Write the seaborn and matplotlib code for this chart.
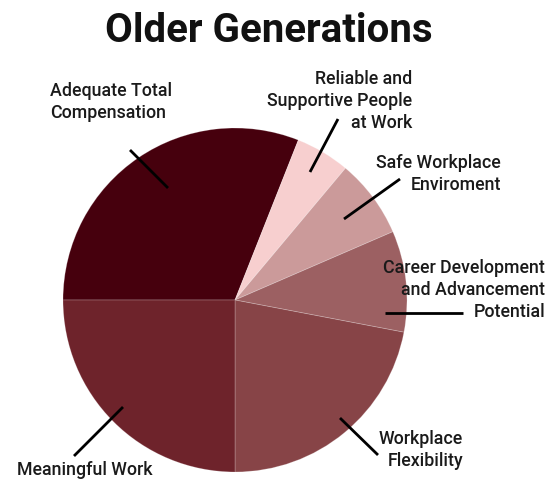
import matplotlib
matplotlib.use("Agg")
import matplotlib.pyplot as plt
import seaborn as sns

# Share of older-generation respondents by top workplace priority
categories = [
    "Adequate Total\nCompensation",
    "Reliable and\nSupportive People\nat Work",
    "Safe Workplace\nEnviroment",
    "Career Development\nand Advancement\nPotential",
    "Workplace\nFlexibility",
    "Meaningful Work",
]
shares = [31.0, 5.1, 7.4, 9.5, 22.0, 25.0]
colors = ["#46000d", "#f7cfcf", "#cb9a9a", "#9c6062", "#874447", "#6e232b"]

sns.set_theme(style="white")
plt.rcParams["font.family"] = ["Roboto", "DejaVu Sans"]

W, H = 548, 480
CX, CY, R = 235, 300, 172

fig = plt.figure(figsize=(W / 100, H / 100), dpi=100)
ax = fig.add_axes([0, 0, 1, 1])
ax.pie(shares, colors=colors, startangle=180, counterclock=False,
       radius=1, center=(0, 0),
       wedgeprops=dict(linewidth=0.6, edgecolor="#ffffff40"))
ax.set_xlim(-CX / R, (W - CX) / R)
ax.set_ylim(-(H - CY) / R, CY / R)
ax.set_aspect("equal")
ax.axis("off")


def px(x, y):
    """Convert figure pixel position to pie data coordinates."""
    return (x - CX) / R, (CY - y) / R


# leader lines: (start inside wedge, end near label)
leaders = [
    ((168, 188), (130, 150)),
    ((310, 172), (338, 119)),
    ((344, 219), (400, 179)),
    ((385, 313), (463, 313)),
    ((340, 418), (378, 455)),
    ((123, 407), (74, 456)),
]
for (a, b) in leaders:
    p0, p1 = px(*a), px(*b)
    ax.plot([p0[0], p1[0]], [p0[1], p1[1]], color="black", lw=2,
            solid_capstyle="butt")

# label placement: (x, y, horizontal alignment, vertical alignment)
label_pos = [
    (50, 102, "left", "center"),
    (412, 101, "right", "center"),
    (501, 174, "right", "center"),
    (545, 290, "right", "center"),
    (463, 450, "right", "center"),
    (17, 470, "left", "center"),
]
for text, (x, y, ha, va) in zip(categories, label_pos):
    tx, ty = px(x, y)
    ax.text(tx, ty, text, ha=ha, va=va, fontsize=12.8, color="#1a1a1a",
            linespacing=1.3, fontweight="medium")

tx, ty = px(269, 31)
ax.text(tx, ty, "Older Generations", ha="center", va="center",
        fontsize=29, fontweight="bold", color="#111111")

fig.savefig("out.png", dpi=100)
